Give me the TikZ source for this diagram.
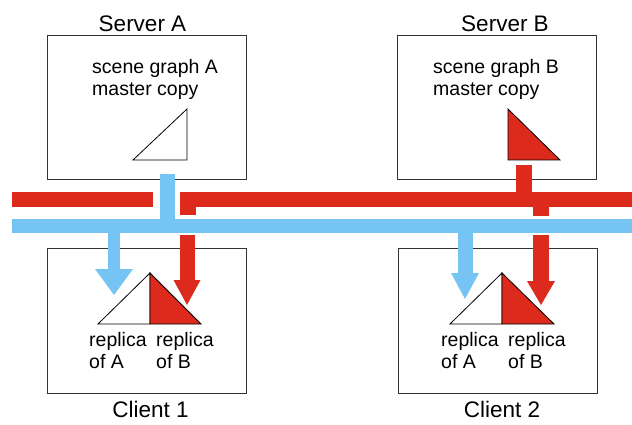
\documentclass[tikz,border=0pt]{standalone}
\usepackage{fontspec}
\setmainfont{Liberation Sans}
\usepackage{tikz}
\usetikzlibrary{arrows.meta, positioning}
\definecolor{BusRed}{HTML}{DC2B1C}
\definecolor{BusBlue}{HTML}{76C4F3}
\definecolor{Frame}{HTML}{333333}

\begin{document}
\begin{tikzpicture}[
    x=1pt, y=-1pt,
    host/.style={rectangle, draw=Frame, line width=1pt, inner sep=0pt,
                 minimum width=199pt, minimum height=144pt},
    hostname/.style={inner sep=0pt, font=\fontsize{22.5}{26}\selectfont},
    note/.style={inner sep=0pt, anchor=north west, align=left,
                 font=\fontsize{19.5}{22}\selectfont},
    tri/.style={draw=black, line width=0.8pt, line join=miter},
    redbus/.style={fill=BusRed},
    bluebus/.style={fill=BusBlue},
    redarr/.style={draw=BusRed, line width=15pt},
    bluearr/.style={draw=BusBlue, line width=13pt},
  ]
  \useasboundingbox (0,0) rectangle (632,425);

  % hosts
  \node[host] (srvA) at (146.5,108) {};
  \node[host] (srvB) at (497,108) {};
  \node[host, minimum height=145pt] (cli1) at (146.5,320.5) {};
  \node[host, minimum height=145pt] (cli2) at (498,320.5) {};

  \node[hostname, above=4pt of srvA, xshift=-4pt] (srvAname) {Server A};
  \node[hostname, above=4pt of srvB, xshift=8pt] (srvBname) {Server B};
  \node[hostname, below=7pt of cli1, xshift=4pt] (cli1name) {Client 1};
  \node[hostname, below=7pt of cli2, xshift=4pt] (cli2name) {Client 2};

  \node[note] (srvAtxt) at (92,59) {scene graph A\\master copy};
  \node[note] (srvBtxt) at (433,59) {scene graph B\\master copy};
  \node[note] (c1repA) at (89,332) {replica\\of A};
  \node[note] (c1repB) at (156,332) {replica\\of B};
  \node[note] (c2repA) at (441,332) {replica\\of A};
  \node[note] (c2repB) at (508,332) {replica\\of B};

  % scene graphs
  \filldraw[tri, fill=white] (133,160) -- (187,160) -- (187,109) -- cycle;
  \filldraw[tri, fill=BusRed] (508,109) -- (508,160) -- (560,160) -- cycle;
  \filldraw[tri, fill=white] (98,324) -- (150,324) -- (150,273) -- cycle;
  \filldraw[tri, fill=BusRed] (150,273) -- (150,324) -- (201,324) -- cycle;
  \filldraw[tri, fill=white] (450,324) -- (502,324) -- (502,273) -- cycle;
  \filldraw[tri, fill=BusRed] (502,273) -- (502,324) -- (554,324) -- cycle;

  % buses
  \fill[redbus] (12,192) rectangle (153,207);
  \fill[redbus] (180,192) rectangle (632,207);
  \fill[redbus] (180,207) rectangle (196,215);
  \fill[redbus] (516,165) rectangle (532,192);
  \fill[redbus] (533,207) rectangle (549,216);
  \fill[bluebus] (12,219) rectangle (632,233);
  \fill[bluebus] (160,174) rectangle (175,219);

  % updates to the clients
  \coordinate (b1) at (114,233);  \coordinate (b1tip) at (114,295);
  \coordinate (r1) at (187,235);  \coordinate (r1tip) at (187,305);
  \coordinate (b2) at (465,233);  \coordinate (b2tip) at (465,299);
  \coordinate (r2) at (541,235);  \coordinate (r2tip) at (541,305);
  \draw[bluearr, line width=12pt, -{Triangle[width=38pt, length=26pt, line width=0pt]}] (b1) -- (b1tip);
  \draw[redarr, -{Triangle[width=27pt, length=25pt, line width=0pt]}] (r1) -- (r1tip);
  \draw[bluearr, line width=15pt, -{Triangle[width=28pt, length=26pt, line width=0pt]}] (b2) -- (b2tip);
  \draw[redarr, line width=16pt, -{Triangle[width=28pt, length=24pt, line width=0pt]}] (r2) -- (r2tip);
\end{tikzpicture}
\end{document}
